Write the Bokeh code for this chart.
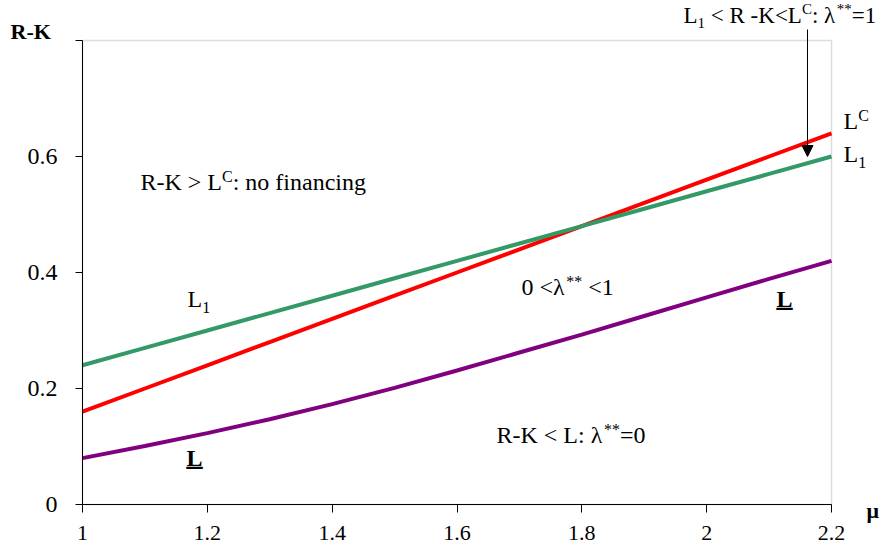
from bokeh.plotting import figure
from bokeh.models import Range1d, FixedTicker, Label, Arrow, NormalHead, BoxAnnotation
from bokeh.embed import file_html
from bokeh.resources import INLINE

# ---------------- data ----------------
mu = [1.0, 1.1, 1.2, 1.3, 1.4, 1.5, 1.6, 1.7, 1.8, 1.9, 2.0, 2.1, 2.2]
L_C = [0.16, 0.20, 0.24, 0.28, 0.32, 0.36, 0.40, 0.44, 0.48, 0.52, 0.56, 0.60, 0.64]
L_1 = [0.24, 0.27, 0.30, 0.33, 0.36, 0.39, 0.42, 0.45, 0.48, 0.51, 0.54, 0.57, 0.60]
L_low = [0.08, 0.101, 0.123, 0.147, 0.173, 0.201, 0.231, 0.262, 0.293, 0.325, 0.357, 0.389, 0.42]

x_ticks = [1.0, 1.2, 1.4, 1.6, 1.8, 2.0, 2.2]
x_tick_labels = ["1", "1.2", "1.4", "1.6", "1.8", "2", "2.2"]
y_ticks = [0.0, 0.2, 0.4, 0.6, 0.8]
y_tick_labels = ["0", "0.2", "0.4", "0.6", ""]

# ---------------- layout ----------------
W, H = 882, 552
FX0, FX1 = 82, 831     # plot box left/right (px)
FY1, FY0 = 40, 504     # plot box top/bottom (px)
XB = (1.0, 2.2)        # axis bounds
YB = (0.0, 0.8)
KX = (FX1 - FX0) / (XB[1] - XB[0])
KY = (FY0 - FY1) / (YB[1] - YB[0])
XR = (XB[0] - FX0 / KX, XB[0] + (W - FX0) / KX)
YR = (YB[0] - (H - FY0) / KY, YB[1] + FY1 / KY)
FONT = "Liberation Serif"

p = figure(width=W, height=H, output_backend="svg", toolbar_location=None,
           x_range=Range1d(*XR), y_range=Range1d(*YR), min_border=0,
           min_border_left=0, min_border_right=0, min_border_top=0, min_border_bottom=0)
p.background_fill_color = "white"
p.border_fill_color = "white"
p.outline_line_color = None
p.xgrid.visible = False
p.ygrid.visible = False

# plot box (gray top/right border), drawn beneath axes and curves
p.add_layout(BoxAnnotation(left=XB[0], right=XB[1], bottom=YB[0], top=YB[1],
                           fill_alpha=0, line_color="#8c8c8c", line_width=1.5,
                           level="underlay"))

p.xaxis.fixed_location = YB[0]
p.yaxis.fixed_location = XB[0]
p.xaxis.bounds = XB
p.yaxis.bounds = YB
p.xaxis.ticker = FixedTicker(ticks=x_ticks)
p.xaxis.major_label_overrides = {t: s for t, s in zip(x_ticks, x_tick_labels)}
p.yaxis.ticker = FixedTicker(ticks=y_ticks)
p.yaxis.major_label_overrides = {t: s for t, s in zip(y_ticks, y_tick_labels)}
for ax in (p.xaxis, p.yaxis):
    ax.axis_line_color = "black"
    ax.axis_line_width = 1
    ax.major_tick_line_color = "black"
    ax.major_tick_in = 0
    ax.minor_tick_line_color = None
    ax.major_label_text_font = FONT
    ax.major_label_text_color = "black"
p.xaxis.major_tick_out = 8
p.xaxis.major_label_standoff = 13
p.xaxis.major_label_text_font_size = "22px"
p.yaxis.major_tick_out = 7
p.yaxis.major_label_standoff = 18
p.yaxis.major_label_text_align = "center"
p.yaxis.major_label_text_font_size = "24px"

p.line(mu, L_C, line_color="#ff0000", line_width=4)
p.line(mu, L_1, line_color="#339966", line_width=4)
p.line(mu, L_low, line_color="#800080", line_width=4)

# ---------------- text helpers ----------------
ADV = {' ': 250, '-': 333, '<': 564, '>': 564, ':': 278, '=': 564, '*': 500,
       '.': 250, 'R': 667, 'K': 722, 'L': 611, 'C': 667, 'n': 500, 'o': 500,
       'f': 333, 'i': 278, 'a': 444, 'c': 444, 'g': 500, 'λ': 549}
LIFT = 0.28   # baseline correction (fraction of font size)


def tw(s, size):
    return sum(ADV.get(ch, 500) for ch in s) * size / 1000.0


def to_data(px, py):
    return XB[0] + (px - FX0) / KX, YB[0] + (FY0 - py) / KY


def put(text, px, py, size=24, bold=False):
    x, y = to_data(px, py - LIFT * size)
    p.add_layout(Label(x=x, y=y, text=text, text_font=FONT,
                       text_font_size=f"{size}px",
                       text_font_style="bold" if bold else "normal",
                       text_color="black", text_baseline="alphabetic",
                       text_align="left"))


def rich(segs, px, py, size=24):
    small = round(size * 0.66)
    x = px
    for s, kind in segs:
        if kind == "gap":
            x += tw(s, size)
        elif kind == "n":
            put(s, x, py, size)
            x += tw(s, size)
        elif kind == "sub":
            put(s, x, py + 6, small)
            x += tw(s, small)
        else:
            put(s, x, py - 8, small)
            x += tw(s, small)


def underlined(px, py, size=24):
    put("L", px, py, size, bold=True)
    put("_", px, py - 2, round(size * 1.33), bold=True)


# top annotation with arrow
rich([("L", "n"), ("1", "sub"), (" ", "gap"), ("< R -K<L", "n"), ("C", "sup"),
      (": λ", "n"), ("**", "sup"), ("=1", "n")], 683, 21, 23)
xs, ys = to_data(807, 29)
xe, ye = to_data(807, 156)
p.add_layout(Arrow(end=NormalHead(size=11, fill_color="black", line_color="black"),
                   x_start=xs, y_start=ys, x_end=xe, y_end=ye,
                   line_color="black", line_width=1))

# curve labels at right
rich([("L", "n"), ("C", "sup")], 843, 127)
rich([("L", "n"), ("1", "sub")], 843, 160)

# region labels
rich([("R-K > L", "n"), ("C", "sup"), (": no financing", "n")], 140, 188)
rich([("L", "n"), ("1", "sub")], 187, 305)
rich([("0 <λ", "n"), ("**", "sup"), (" ", "gap"), ("<1", "n")], 521, 293)
rich([("R-K < L: λ", "n"), ("**", "sup"), ("=0", "n")], 496, 441)

underlined(776, 305)
underlined(186, 464)

# axis titles
put("R-K", 10, 37, 22, bold=True)
put("μ", 866, 516, 22, bold=True)

open("out.html", "w").write(file_html(p, INLINE))
